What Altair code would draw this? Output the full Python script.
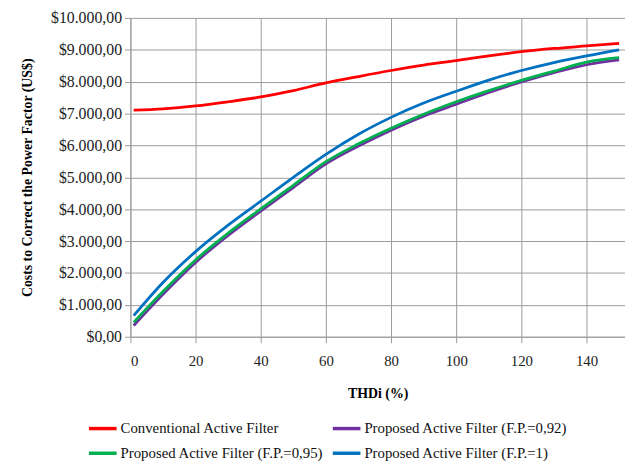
import altair as alt
import pandas as pd

thd = [1, 10, 20, 30, 40, 50, 60, 70, 80, 90, 100, 110, 120, 130, 140, 150]
conventional = [7110, 7150, 7240, 7370, 7520, 7720, 7960, 8160, 8350, 8520, 8660, 8810, 8940, 9040, 9120, 9200]
fp092 = [350, 1330, 2330, 3180, 3940, 4680, 5420, 5980, 6480, 6920, 7290, 7660, 7990, 8280, 8530, 8680]
fp095 = [450, 1420, 2410, 3250, 4010, 4750, 5490, 6050, 6540, 6980, 7370, 7720, 8040, 8330, 8610, 8750]
fp1 = [660, 1700, 2670, 3500, 4250, 5000, 5720, 6350, 6880, 7330, 7700, 8050, 8350, 8600, 8810, 9000]

names = [
    "Conventional Active Filter",
    "Proposed Active Filter (F.P.=0,92)",
    "Proposed Active Filter (F.P.=0,95)",
    "Proposed Active Filter (F.P.=1)",
]
colors = ["#FF0000", "#7030A0", "#00B050", "#0070C0"]
series = [conventional, fp092, fp095, fp1]

# legend is filled column by column: put items in the order that gives
# row 1: Conventional | F.P.=0,92 ; row 2: F.P.=0,95 | F.P.=1
legend_order = [0, 2, 1, 3]
legend_names = [names[i] for i in legend_order]
legend_colors = [colors[i] for i in legend_order]

rows = []
for name, vals in zip(names, series):
    for x, v in zip(thd, vals):
        rows.append({"thd": x, "cost": v, "series": name})
df = pd.DataFrame(rows)

font = "Liberation Serif"

chart = alt.Chart(df).mark_line(strokeWidth=2.8, clip=True, interpolate="monotone").encode(
    x=alt.X(
        "thd:Q",
        scale=alt.Scale(domain=[0, 151.8], nice=False, zero=False),
        axis=alt.Axis(
            values=[0, 20, 40, 60, 80, 100, 120, 140],
            title="THDi (%)",
            labelFontSize=15,
            labelPadding=11,
            titlePadding=19,
            tickSize=6,
        ),
    ),
    y=alt.Y(
        "cost:Q",
        scale=alt.Scale(domain=[0, 10000], nice=False),
        axis=alt.Axis(
            values=list(range(0, 10001, 1000)),
            labelExpr='datum.value == 0 ? "$0,00" : "$" + format(datum.value / 1000, "d") + ".000,00"',
            title="Costs to Correct the Power Factor (US$)",
            labelFontSize=16,
            labelPadding=3,
            titlePadding=16,
            tickSize=6,
        ),
    ),
    color=alt.Color(
        "series:N",
        scale=alt.Scale(domain=legend_names, range=legend_colors),
        legend=alt.Legend(
            title=None,
            orient="none",
            legendX=-44,
            legendY=400,
            columns=2,
            columnPadding=2,
            rowPadding=1,
            symbolType="stroke",
            symbolSize=784,
            symbolStrokeWidth=3.5,
            labelOffset=2,
            labelFont=font,
            labelFontSize=15,
            labelColor="#111",
            labelLimit=400,
        ),
    ),
).properties(
    width=501,
    height=323,
    autosize=alt.AutoSizeParams(type="none"),
    padding={"left": 124, "top": 7, "right": 0, "bottom": 135},
).configure_axis(
    labelFont=font,
    titleFont=font,
    titleFontSize=14,
    titleFontWeight="bold",
    labelColor="#222",
    titleColor="#000",
    gridColor="#9a9a9a",
    gridWidth=1,
    domainColor="#9a9a9a",
    tickColor="#9a9a9a",
    gridOpacity=1,
).configure_view(stroke=None)

chart.save("out.html", embed_options={"renderer": "svg", "actions": False})
